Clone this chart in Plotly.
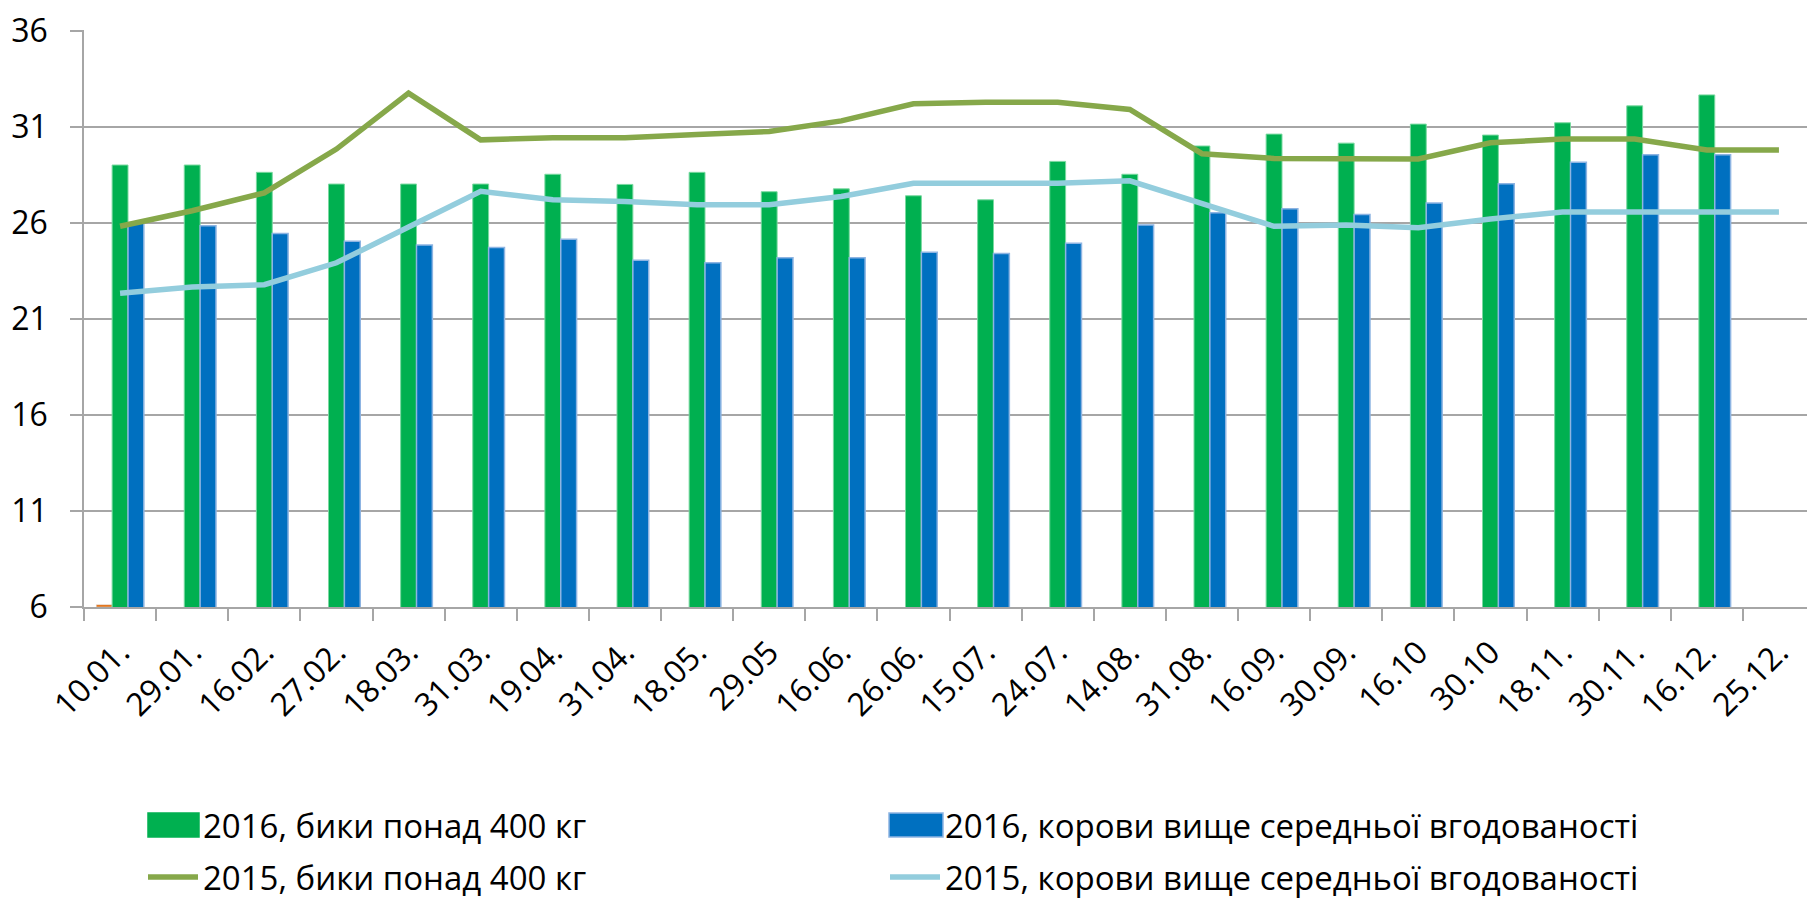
import plotly.graph_objects as go

# dates of observation (x categories)
dates = ["10.01.", "29.01.", "16.02.", "27.02.", "18.03.", "31.03.", "19.04.", "31.04.",
         "18.05.", "29.05", "16.06.", "26.06.", "15.07.", "24.07.", "14.08.", "31.08.",
         "16.09.", "30.09.", "16.10", "30.10", "18.11.", "30.11.", "16.12.", "25.12."]

# 2016 bars
bulls_2016 = [29.01, 29.01, 28.63, 28.02, 28.02, 28.02, 28.53, 28.0, 28.63, 27.62, 27.77, 27.41,
              27.2, 29.2, 28.53, 30.0, 30.62, 30.15, 31.14, 30.57, 31.21, 32.09, 32.66, None]
cows_2016 = [26.0, 25.85, 25.44, 25.04, 24.85, 24.71, 25.15, 24.05, 23.92, 24.18, 24.18, 24.47,
             24.41, 24.94, 25.89, 26.52, 26.73, 26.44, 27.03, 28.04, 29.16, 29.54, 29.54, None]
# stray series visible only as a thin mark on the first date
other_2016 = [0.12] + [None] * 23

# 2015 lines
bulls_2015 = [25.82, 26.63, 27.56, 29.84, 32.75, 30.32, 30.43, 30.43, 30.6, 30.76, 31.31, 32.2,
              32.28, 32.28, 31.9, 29.6, 29.35, 29.33, 29.33, 30.17, 30.36, 30.36, 29.79, 29.79]
cows_2015 = [22.34, 22.66, 22.78, 23.92, 25.78, 27.64, 27.2, 27.11, 26.94, 26.94, 27.37, 28.06,
             28.06, 28.06, 28.19, 27.0, 25.82, 25.89, 25.74, 26.2, 26.56, 26.56, 26.56, 26.56]

y_ticks = [6, 11, 16, 21, 26, 31, 36]

name_bulls_2016 = "2016, бики понад 400 кг"
name_cows_2016 = "2016, корови вище середньої вгодованості"
name_bulls_2015 = "2015, бики понад 400 кг"
name_cows_2015 = "2015, корови вище середньої вгодованості"

font = "Open Sans"
grid = "#a6a6a6"
green, blue = "#00B050", "#0070C0"
W, H = 1807, 892  # page body adds an 8px margin
L, T, B = 76, 22, 293
plot_w, plot_h = W - L, H - T - B

fig = go.Figure()

fig.add_trace(go.Bar(x=dates, y=other_2016, base=6, marker_color="#E46C0A",
                     showlegend=False, hoverinfo="skip"))
fig.add_trace(go.Bar(x=dates, y=bulls_2016, name=name_bulls_2016, showlegend=False,
                     marker=dict(color=green, line=dict(color="#7ad9a0", width=1))))
fig.add_trace(go.Bar(x=dates, y=cows_2016, name=name_cows_2016, showlegend=False,
                     marker=dict(color=blue, line=dict(color="#8db4e2", width=1.5))))
fig.add_trace(go.Scatter(x=dates, y=bulls_2015, mode="lines", name=name_bulls_2015,
                         line=dict(color="#86A84A", width=5.5), legend="legend3"))
fig.add_trace(go.Scatter(x=dates, y=cows_2015, mode="lines", name=name_cows_2015,
                         line=dict(color="#93CDDD", width=5.5), legend="legend4"))

# legend entries for the bars (their wide swatches are drawn as shapes below)
fig.add_trace(go.Scatter(x=[None], y=[None], mode="markers", name=name_bulls_2016,
                         marker=dict(symbol="square", color=green, size=12, line_width=0),
                         legend="legend"))
fig.add_trace(go.Scatter(x=[None], y=[None], mode="markers", name=name_cows_2016,
                         marker=dict(symbol="square", color=blue, size=12, line_width=0),
                         legend="legend2"))


# one legend per entry so the 2x2 grid can be placed exactly
def legend_at(x, y):
    return dict(orientation="h", xref="container", yref="container", x=x / W, y=1 - y / H,
                xanchor="left", yanchor="middle", itemwidth=50, bgcolor="rgba(0,0,0,0)",
                font=dict(family=font, size=33, color="black"))


def swatch(x0, x1, y0, y1, color, edge):
    return dict(type="rect", xref="paper", yref="paper", layer="above",
                x0=(x0 - L) / plot_w, x1=(x1 - L) / plot_w,
                y0=(H - B - y1) / plot_h, y1=(H - B - y0) / plot_h,
                fillcolor=color, line=dict(color=edge, width=1.5))


fig.update_layout(
    width=W, height=H,
    margin=dict(l=L, r=0, t=T, b=B, autoexpand=False),
    plot_bgcolor="white", paper_bgcolor="white",
    barmode="group", bargap=0.34, bargroupgap=0,
    font=dict(family=font, color="black"),
    legend=legend_at(135, 817),
    legend2=legend_at(877, 817),
    legend3=legend_at(135, 869),
    legend4=legend_at(877, 869),
    shapes=[swatch(140, 191, 805, 829, green, green),
            swatch(881, 935, 805, 829, blue, "#8db4e2")],
)

fig.update_xaxes(type="category", showgrid=False, showline=True, linecolor=grid, linewidth=1.5,
                 ticks="outside", tickson="boundaries", ticklen=12, tickcolor=grid, tickwidth=1.5,
                 tickangle=-45, tickfont=dict(family=font, size=32, color="black"),
                 ticklabelstandoff=12, automargin=False)
fig.update_yaxes(range=[6, 36.04], tickvals=y_ticks, showgrid=True, gridcolor=grid, gridwidth=1.5,
                 showline=True, linecolor=grid, linewidth=1.5, ticks="outside", ticklen=12,
                 tickcolor=grid, tickwidth=1.5, zeroline=False, ticklabeloverflow="allow",
                 tickfont=dict(family=font, size=32, color="black"), ticklabelstandoff=16,
                 automargin=False)

fig.write_html("out.html")
